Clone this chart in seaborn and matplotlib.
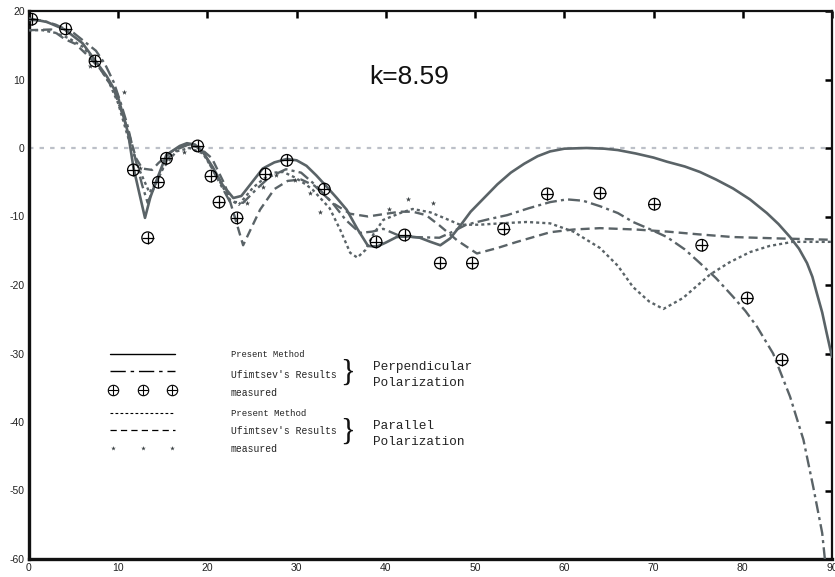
import matplotlib
matplotlib.use("Agg")
import matplotlib.pyplot as plt
import seaborn as sns

# perpendicular polarization, present method (solid)
perp_pm_x = [0, 2, 4, 6, 7.4, 8.7, 9.9, 11.1, 11.7, 12.4, 13.0, 13.6, 14.3, 15.4, 16.9, 17.7, 18.6,
             19.6, 20.6, 21.7, 22.9, 23.8, 25.0, 26.2, 27.5, 28.9, 30.0, 31.1, 32.2, 33.4, 34.5,
             35.6, 36.8, 38.0, 39.0, 40.0, 41.2, 42.5, 43.8, 45.0, 46.1, 47.2, 48.3, 49.5, 51.0,
             52.5, 54.0, 55.5, 57.0, 58.4, 60.0, 62.5, 64.5, 66.0, 68.0, 70.0, 71.5, 73.5, 75.2,
             77.0, 78.9, 80.8, 82.7, 84.0, 85.3, 86.3, 87.2, 87.8, 88.3, 88.9, 89.4, 90]
perp_pm_y = [18.9, 18.4, 17.3, 15.3, 12.8, 10.5, 7.8, 2.2, -2.8, -6.8, -10.2, -7.2, -4.7, -1.0, 0.3, 0.7, 0.5,
             -0.8, -2.8, -5.4, -7.3, -7.0, -5.0, -3.0, -2.1, -1.6, -1.8, -2.6, -4.0, -5.7, -7.3,
             -9.0, -11.8, -14.3, -14.4, -13.8, -13.0, -12.9, -13.1, -13.7, -14.2, -13.2, -11.4, -9.3, -7.3,
             -5.3, -3.6, -2.3, -1.2, -0.5, -0.1, 0.0, -0.1, -0.3, -0.8, -1.4, -2.0, -2.7, -3.5,
             -4.6, -5.9, -7.5, -9.5, -11.1, -13.0, -14.7, -16.8, -18.8, -21.2, -24.0, -27.0, -30.5]

# perpendicular polarization, Ufimtsev's results (dash-dot)
perp_uf_x = [0, 1.5, 3, 5, 7.5, 8.5, 9.5, 10.3, 11.0, 12.0, 12.7, 13.3, 14.2, 15.5, 17.0, 18.3,
             19.5, 21.0, 22.5, 24.0, 25.5, 27.0, 28.8, 30.5, 32.0, 34.0, 35.5, 37.1, 38.5, 39.7,
             41.5, 43.0, 46.0, 47.2, 49.0, 51.5, 53.6, 56.0, 58.4, 60.3, 62.1, 64.0, 66.0, 67.7,
             69.5, 71.5, 73.5, 75.2, 77.0, 78.9, 80.3, 81.6, 83.4, 85.3, 86.8, 87.9, 88.9, 89.2]
perp_uf_y = [18.7, 18.6, 18.0, 16.8, 14.2, 12.3, 9.6, 6.5, 3.5, -2.0, -5.5, -8.0, -5.2, -1.6, 0.2, 0.6,
             -0.5, -4.2, -7.8, -8.0, -6.0, -4.2, -3.1, -3.6, -5.3, -8.0, -10.5, -12.4, -12.2, -11.8,
             -12.8, -13.0, -13.1, -12.4, -11.2, -10.4, -9.8, -8.8, -7.9, -7.5, -7.7, -8.5, -9.5, -10.8,
             -11.8, -13.0, -14.8, -16.8, -19.0, -21.7, -23.8, -26.1, -30.0, -36.3, -42.6, -49.5, -56.2, -60.0]

# perpendicular polarization, measured
perp_ms_x = [0.3, 4.1, 7.4, 11.7, 13.3, 14.5, 15.4, 18.9, 20.4, 21.3, 23.3, 26.5, 28.9, 33.1,
             38.9, 42.1, 46.1, 49.7, 53.2, 58.1, 64.0, 70.1, 75.4, 80.5, 84.4]
perp_ms_y = [18.8, 17.4, 12.7, -3.2, -13.1, -5.0, -1.5, 0.3, -4.1, -7.9, -10.2, -3.8, -1.8, -6.0,
             -13.7, -12.7, -16.8, -16.8, -11.8, -6.7, -6.6, -8.2, -14.2, -21.9, -30.9]

# parallel polarization, present method (dotted)
par_pm_x = [0, 1.5, 3, 4.5, 6, 7.5, 9, 10, 11, 12.3, 13.5, 14.3, 15, 16.5, 18, 19.5, 21,
            22.5, 23.5, 25.1, 26.3, 27.4, 28.5, 29.8, 31.0, 31.8, 33.7, 34.9, 36.0, 36.8, 37.7,
            38.6, 39.7, 41.6, 43.0, 45.0, 46.5, 48.3, 50.5, 52.8, 55.8, 58.4, 61.0, 64.0, 66.0,
            67.7, 69.5, 71.1, 73.3, 76.3, 78.5, 80.8, 83.0, 85.6, 90]
par_pm_y = [17.2, 17.2, 16.8, 16.0, 14.8, 12.6, 9.5, 6.5, 2.0, -3.0, -6.5, -5.0, -3.0, -0.5, 0.0, -0.8, -4.0,
            -7.5, -8.3, -5.8, -4.5, -3.6, -3.5, -4.3, -5.3, -6.1, -8.8, -12.0, -15.3, -16.0, -14.9,
            -12.6, -10.5, -9.5, -8.9, -9.4, -10.2, -11.2, -11.2, -11.0, -10.8, -11.0, -12.2, -14.6, -17.2,
            -20.3, -22.4, -23.5, -21.9, -18.5, -16.7, -15.2, -14.3, -13.7, -13.7]

# parallel polarization, Ufimtsev's results (dashed)
par_uf_x = [0, 2.5, 4, 5.2, 6.5, 8, 9.5, 11, 12, 12.7, 13.8, 14.5, 16, 17.5, 19, 20.5, 22,
            23, 24, 24.8, 25.9, 27.5, 29, 30.5, 32, 34, 36, 38, 40, 41.6, 43, 44.5, 46,
            48, 50.2, 52.5, 54.7, 58.4, 61, 64, 68, 71.5, 75, 78.9, 84, 90]
par_uf_y = [17.2, 17.3, 15.9, 15.2, 13.6, 11.5, 8.5, 3.0, -1.5, -3.0, -3.2, -2.2, -0.5, 0.3, 0.2, -1.5, -5.5,
            -9.8, -14.2, -12.0, -9.0, -6.0, -4.8, -4.6, -5.5, -8.0, -9.6, -10.0, -9.6, -9.3, -9.3, -9.8, -11.3,
            -13.5, -15.4, -14.6, -13.7, -12.3, -11.9, -11.7, -11.9, -12.2, -12.6, -13.0, -13.2, -13.4]

# parallel polarization, measured
par_ms_x = [6.8, 10.7, 12.4, 17.4, 24.4, 26.2, 27.7, 29.8, 31.5, 32.6, 40.3, 42.5, 45.3]
par_ms_y = [11.9, 8.2, -2.9, -0.6, -8.0, -5.7, -3.9, -4.7, -6.6, -9.3, -8.9, -7.4, -8.0]

x_ticks = [0, 10, 20, 30, 40, 50, 60, 70, 80, 90]
y_ticks = [-60, -50, -40, -30, -20, -10, 0, 10, 20]

line_col = "#5a6367"
star_col = "#3c4245"

sns.set_style("white")
plt.rcParams["lines.scale_dashes"] = False
plt.rcParams["font.family"] = ["Liberation Sans", "DejaVu Sans"]

fig = plt.figure(figsize=(8.35, 5.77), dpi=100)
ax = fig.add_axes([29 / 835, 18 / 577, 803 / 835, 548 / 577])

# zero reference line
ax.axhline(0, color="#bcc0c8", lw=1.6, dashes=(3.2, 4.4), zorder=1)

sns.lineplot(x=perp_pm_x, y=perp_pm_y, ax=ax, color=line_col, lw=1.9, sort=False,
             estimator=None, zorder=3)
l = sns.lineplot(x=perp_uf_x, y=perp_uf_y, ax=ax, color=line_col, lw=1.7, sort=False,
                 estimator=None, zorder=3).lines[-1]
l.set_dashes((8.6, 3.0, 2.2, 3.0))
l = sns.lineplot(x=par_pm_x, y=par_pm_y, ax=ax, color=line_col, lw=1.7, sort=False,
                 estimator=None, zorder=3).lines[-1]
l.set_dashes((2.2, 2.2))
l = sns.lineplot(x=par_uf_x, y=par_uf_y, ax=ax, color=line_col, lw=1.7, sort=False,
                 estimator=None, zorder=3).lines[-1]
l.set_dashes((6.5, 3.6))

sns.scatterplot(x=perp_ms_x, y=perp_ms_y, ax=ax, marker="o", s=70, facecolor="none",
                edgecolor="black", linewidth=0.9, zorder=5)
sns.scatterplot(x=perp_ms_x, y=perp_ms_y, ax=ax, marker="+", s=70, color="black",
                linewidth=0.9, zorder=5)
sns.scatterplot(x=par_ms_x, y=par_ms_y, ax=ax, marker="*", s=16, color=star_col,
                linewidth=0, zorder=5)

ax.set_xlim(0, 90)
ax.set_ylim(-60, 20)
ax.set_xticks(x_ticks)
ax.set_yticks(y_ticks)
ax.set_xticklabels([str(t) for t in x_ticks])
ax.set_yticklabels([str(t) for t in y_ticks])
ax.tick_params(direction="in", length=5, width=1.8, color="black", labelsize=7.5,
               labelcolor="#222222", top=True, right=True, pad=3)
for side in ["left", "bottom"]:
    ax.spines[side].set_linewidth(2.4)
    ax.spines[side].set_color("#111111")
for side in ["top", "right"]:
    ax.spines[side].set_linewidth(1.6)
    ax.spines[side].set_color("#111111")
    ax.spines[side].set_visible(True)

ax.text(0.474, 0.880, "k=8.59", transform=ax.transAxes, ha="center", va="center",
        fontsize=19, color="#111111")

# hand-made legend
tr = ax.transAxes
ax.plot([0.101, 0.182], [0.374, 0.374], transform=tr, color="black", lw=1.0)
ax.plot([0.101, 0.182], [0.343, 0.343], transform=tr, color="black", lw=1.0,
        dashes=(11, 3.5, 2.5, 3.5))
ax.plot([0.101, 0.182], [0.266, 0.266], transform=tr, color="black", lw=0.8,
        dashes=(2.0, 1.6))
ax.plot([0.101, 0.182], [0.235, 0.235], transform=tr, color="black", lw=0.9,
        dashes=(4.5, 3.0))
for xf in [0.105, 0.142, 0.178]:
    ax.plot([xf], [0.308], transform=tr, marker="o", ms=7.5, mfc="none", mec="black", mew=0.8)
    ax.plot([xf], [0.308], transform=tr, marker="+", ms=7.5, color="black", mew=0.8)
    ax.plot([xf], [0.203], transform=tr, marker="*", ms=3.5, color=star_col, mew=0)

mono = ["Liberation Mono", "DejaVu Sans Mono"]
legend_rows = [("Present Method", 0.374, 6.3), ("Ufimtsev's Results", 0.336, 7.0),
               ("measured", 0.303, 7.0), ("Present Method", 0.266, 6.5),
               ("Ufimtsev's Results", 0.234, 7.0), ("measured", 0.201, 7.0)]
for txt, yf, fs in legend_rows:
    ax.text(0.251, yf, txt, transform=tr, ha="left", va="center", fontsize=fs,
            family=mono, color="#222222")

for yf in [0.339, 0.232]:
    ax.text(0.397, yf, "}", transform=tr, ha="center", va="center", fontsize=22,
            family=["Liberation Serif", "DejaVu Serif"], color="#111111")

for txt, yf in [("Perpendicular", 0.350), ("Polarization", 0.321),
                ("Parallel", 0.243), ("Polarization", 0.213)]:
    ax.text(0.428, yf, txt, transform=tr, ha="left", va="center", fontsize=9.2,
            family=mono, color="#222222")

fig.savefig("out.png", dpi=100)
